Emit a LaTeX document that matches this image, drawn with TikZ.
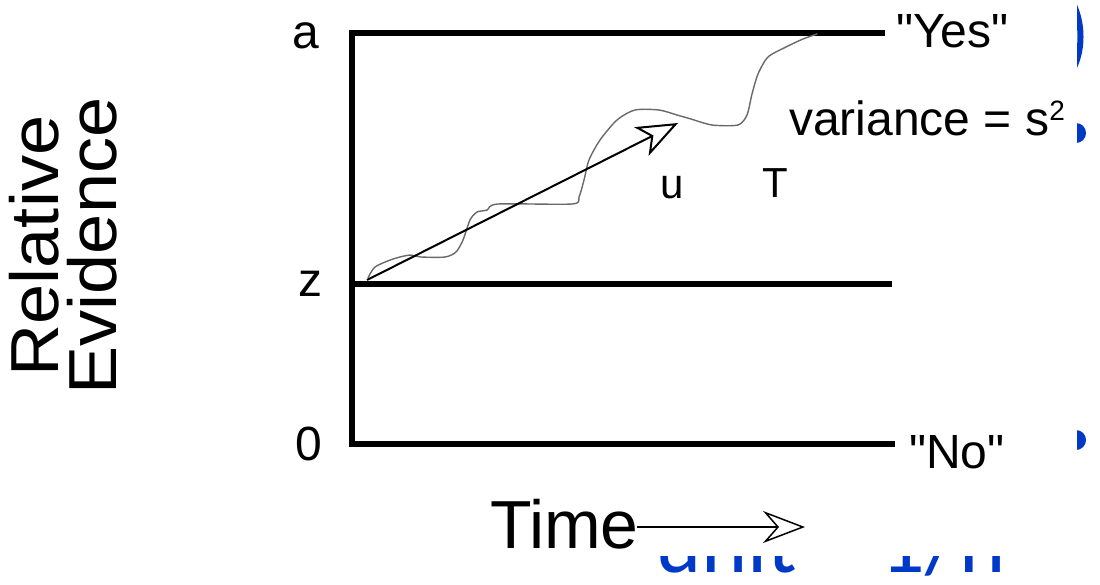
\documentclass[tikz,border=0pt]{standalone}
\usepackage{fontspec}
\setmainfont{Liberation Sans}[Ligatures=TeXOff]
\newfontfamily\blfont{Carlito}
\usetikzlibrary{arrows.meta}
\definecolor{slideblue}{RGB}{0,56,200}
\definecolor{walkgray}{RGB}{105,105,105}
\tikzset{
  bound/.style={line width=6pt, line join=miter},
  lbl/.style={inner sep=0pt, font=\fontsize{48}{48}\selectfont},
  small/.style={inner sep=0pt, font=\fontsize{42}{42}\selectfont},
  big/.style={inner sep=0pt, font=\fontsize{68}{56}\selectfont},
  walk/.style={walkgray, line width=1.4pt, line join=round, line cap=round},
  drift/.style={line width=2pt, -{Stealth[open, length=41pt, width=32pt, inset=11pt]}},
  timearrow/.style={line width=1.5pt, -{Stealth[open, length=42pt, width=32pt, inset=14pt]}},
  slidetext/.style={inner sep=0pt, text=slideblue, font=\blfont\fontsize{88}{88}\selectfont}
}
\begin{document}
\begin{tikzpicture}[x=1pt, y=-1pt]
\useasboundingbox (0,0) rectangle (1100,584);
% fragments of the slide behind the picture
\node[slidetext, anchor=base west] (unit) at (655,572) {unit = 1/n};
\draw[slideblue, line width=6pt] (1070,-2) .. controls (1084,20) and (1084,54) .. (1070,74);
\fill[slideblue] (1076,133) circle (10);
\fill[slideblue] (1076,440) circle (10);
\fill[white] (0,0) rectangle (1077,556);
% frame
\coordinate (topR) at (885,33);
\coordinate (botR) at (895,444);
\coordinate (zL) at (352,284);
\coordinate (zR) at (892,284);
\draw[bound] (topR) -| (352,444) -- (botR);
\draw[bound] (zL) -- (zR);
% labels
\node[lbl, anchor=base] (la) at (306,48) {a};
\node[lbl, anchor=base] (lz) at (310,296) {z};
\node[lbl, anchor=base] (l0) at (309,460) {0};
\node[lbl, anchor=base west] (yes) at (896,47) {"Yes"};
\node[lbl, anchor=base west] (no) at (909,468) {"No"};
\node[lbl, anchor=base west] (var) at (789,135) {variance = s\raisebox{15pt}{\fontsize{28}{28}\selectfont 2}};
\node[small, anchor=base] (u) at (672,198) {u};
\node[small, anchor=base] (T) at (775,197) {T};
\node[big, rotate=90] (rel) at (71,246) {\scalebox{1.06}[1]{\begin{tabular}{@{}c@{}}Relative\\[-8pt]Evidence\end{tabular}}};
\node[big, anchor=base west] (time) at (490,548) {Time};
% random walk
\draw[walk] plot[smooth, tension=0.45] coordinates {
 (368,278) (375,267) (393,259) (410,255) (421,257) (445,257) (456,252)
 (463,240) (470,220) (477,212) (487,210) (498,204) (572,204) (579,197)
 (584,180) (589,160) (600,140) (617,120) (635,110) (659,110) (677,115)
 (691,119) (712,125) (738,125) (747,115) (752,94) (758,74) (768,57)
 (786,47) (803,39) (817,34)};
% drift arrow
\coordinate (dstart) at (367,280);
\coordinate (dtip) at (678,123);
\draw[drift] (dstart) -- (dtip);
% time arrow
\coordinate (tstart) at (637,527);
\coordinate (tend) at (805,527);
\draw[timearrow] (tstart) -- (tend);
\end{tikzpicture}
\end{document}
